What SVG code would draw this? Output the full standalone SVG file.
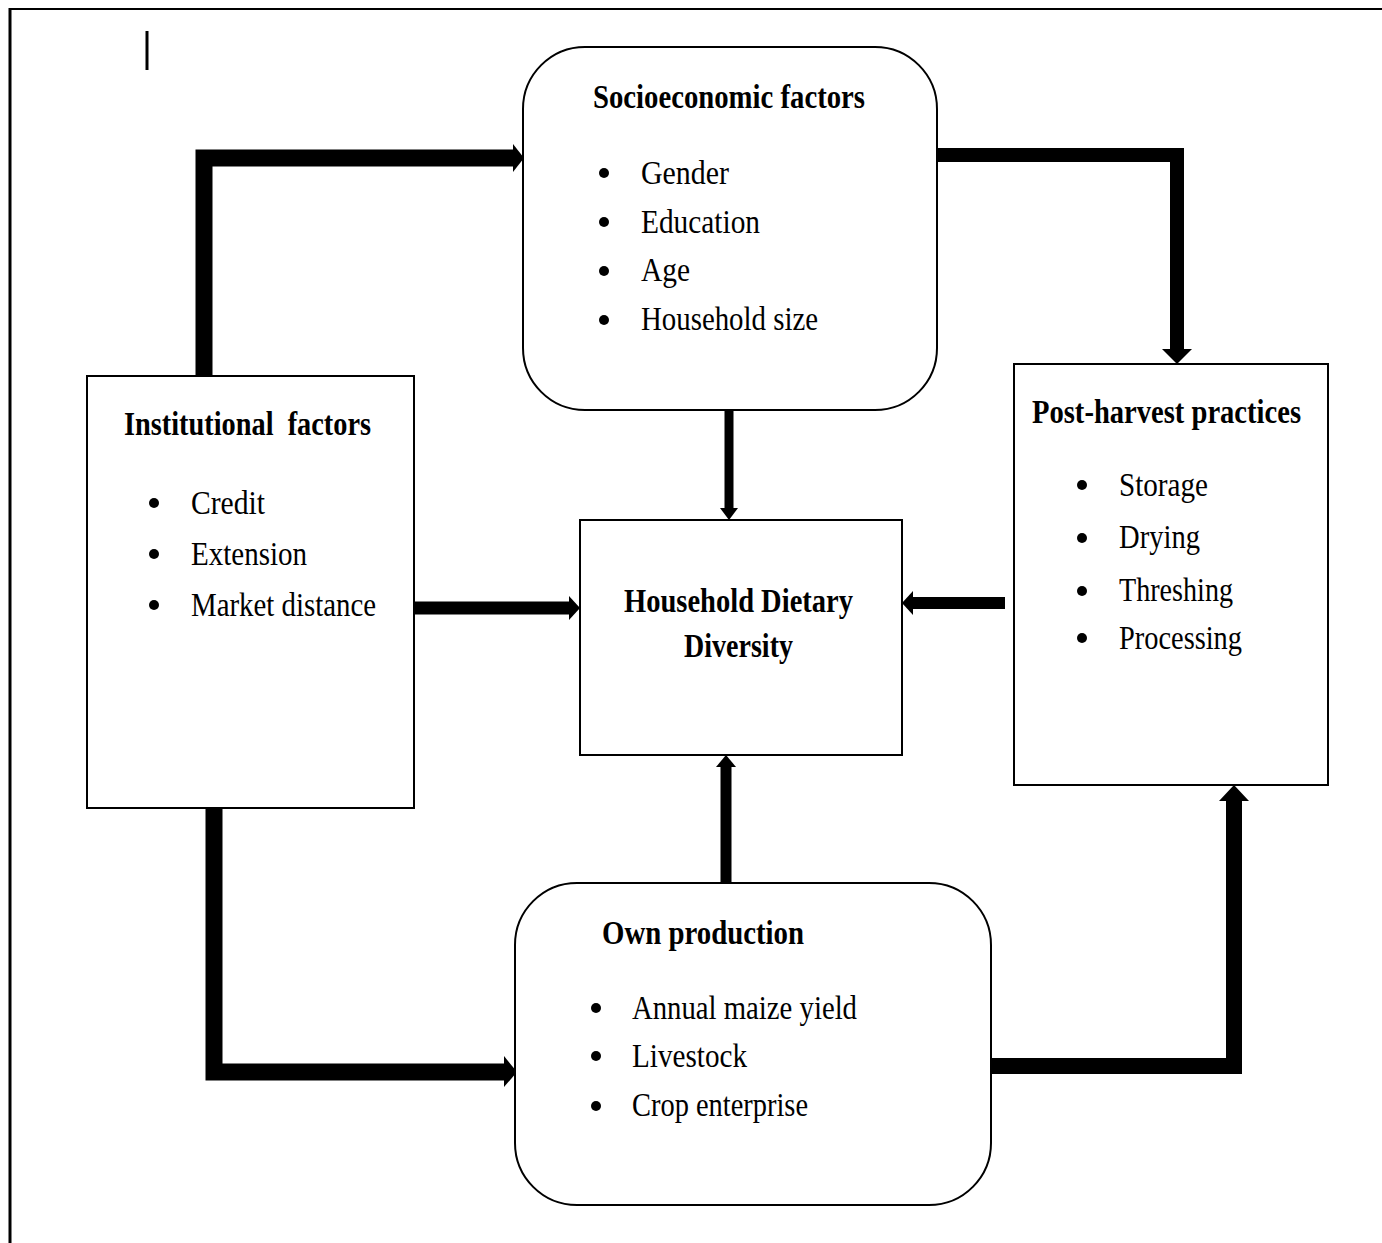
<svg xmlns="http://www.w3.org/2000/svg" width="1382" height="1243" viewBox="0 0 1382 1243">
<style>
.box{fill:#fff;stroke:#000;stroke-width:2}
.t{font-family:"Liberation Serif","Times New Roman",serif;font-size:34px;fill:#000}
.b{font-weight:bold}
.con{fill:none;stroke:#000;stroke-linejoin:miter;stroke-linecap:butt}
.head{fill:#000}
</style>
<rect width="1382" height="1243" fill="#fff"/>
<g id="frame">
<line x1="10" y1="9" x2="1382" y2="9" stroke="#000" stroke-width="2"/>
<line x1="10" y1="8" x2="10" y2="1243" stroke="#000" stroke-width="3"/>
<line x1="147" y1="31" x2="147" y2="70" stroke="#000" stroke-width="3"/>
</g>
<g id="connectors">
<path class="con" d="M204,376 V158 H515" stroke-width="17"/>
<polygon class="head" points="513,144 524,158 513,172"/>
<path class="con" d="M937,155 H1177 V350" stroke-width="14"/>
<polygon class="head" points="1162,349 1192,349 1177,364"/>
<path class="con" d="M729,410 V510" stroke-width="9"/>
<polygon class="head" points="720,508 738,508 729,520"/>
<path class="con" d="M414,608 H571" stroke-width="13"/>
<polygon class="head" points="569,596 580,608 569,620"/>
<path class="con" d="M1005,603 H911" stroke-width="12"/>
<polygon class="head" points="913,591 902,603 913,615"/>
<path class="con" d="M726,888 V765" stroke-width="11"/>
<polygon class="head" points="716,767 726,755 736,767"/>
<path class="con" d="M214,808 V1072 H506" stroke-width="17"/>
<polygon class="head" points="504,1056 517,1072 504,1087"/>
<path class="con" d="M991,1066 H1234 V799" stroke-width="16"/>
<polygon class="head" points="1219,801 1234,785 1249,801"/>
</g>
<g id="socioeconomic">
<rect class="box" x="523" y="47" width="414" height="363" rx="62" ry="62"/>
<text class="t b" x="593" y="108" textLength="272" lengthAdjust="spacingAndGlyphs">Socioeconomic factors</text>
<circle cx="604" cy="173" r="5"/><circle cx="604" cy="222" r="5"/><circle cx="604" cy="271" r="5"/><circle cx="604" cy="320" r="5"/>
<text class="t" x="641" y="184" textLength="88" lengthAdjust="spacingAndGlyphs">Gender</text>
<text class="t" x="641" y="233" textLength="119" lengthAdjust="spacingAndGlyphs">Education</text>
<text class="t" x="641" y="281" textLength="49" lengthAdjust="spacingAndGlyphs">Age</text>
<text class="t" x="641" y="330" textLength="177" lengthAdjust="spacingAndGlyphs">Household size</text>
</g>
<g id="institutional">
<rect class="box" x="87" y="376" width="327" height="432"/>
<text class="t b" x="124" y="435" textLength="247" lengthAdjust="spacingAndGlyphs">Institutional&#160; factors</text>
<circle cx="154" cy="503" r="5"/><circle cx="154" cy="554" r="5"/><circle cx="154" cy="605" r="5"/>
<text class="t" x="191" y="514" textLength="74" lengthAdjust="spacingAndGlyphs">Credit</text>
<text class="t" x="191" y="565" textLength="116" lengthAdjust="spacingAndGlyphs">Extension</text>
<text class="t" x="191" y="616" textLength="185" lengthAdjust="spacingAndGlyphs">Market distance</text>
</g>
<g id="hdd">
<rect class="box" x="580" y="520" width="322" height="235"/>
<text class="t b" x="624" y="612" textLength="229" lengthAdjust="spacingAndGlyphs">Household Dietary</text>
<text class="t b" x="684" y="657" textLength="109" lengthAdjust="spacingAndGlyphs">Diversity</text>
</g>
<g id="postharvest">
<rect class="box" x="1014" y="364" width="314" height="421"/>
<text class="t b" x="1032" y="423" textLength="269" lengthAdjust="spacingAndGlyphs">Post-harvest practices</text>
<circle cx="1082" cy="485" r="5"/><circle cx="1082" cy="538" r="5"/><circle cx="1082" cy="591" r="5"/><circle cx="1082" cy="638" r="5"/>
<text class="t" x="1119" y="496" textLength="89" lengthAdjust="spacingAndGlyphs">Storage</text>
<text class="t" x="1119" y="548" textLength="81" lengthAdjust="spacingAndGlyphs">Drying</text>
<text class="t" x="1119" y="601" textLength="114" lengthAdjust="spacingAndGlyphs">Threshing</text>
<text class="t" x="1119" y="649" textLength="123" lengthAdjust="spacingAndGlyphs">Processing</text>
</g>
<g id="ownproduction">
<rect class="box" x="515" y="883" width="476" height="322" rx="62" ry="62"/>
<text class="t b" x="602" y="944" textLength="202" lengthAdjust="spacingAndGlyphs">Own production</text>
<circle cx="596" cy="1008" r="5"/><circle cx="596" cy="1056" r="5"/><circle cx="596" cy="1106" r="5"/>
<text class="t" x="632" y="1019" textLength="225" lengthAdjust="spacingAndGlyphs">Annual maize yield</text>
<text class="t" x="632" y="1067" textLength="115" lengthAdjust="spacingAndGlyphs">Livestock</text>
<text class="t" x="632" y="1116" textLength="176" lengthAdjust="spacingAndGlyphs">Crop enterprise</text>
</g>
</svg>
